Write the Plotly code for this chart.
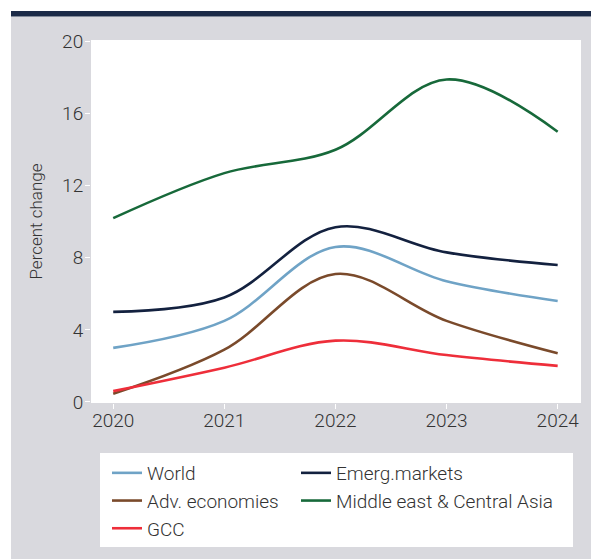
import plotly.graph_objects as go

years = [2020, 2021, 2022, 2023, 2024]
world = [3.0, 4.5, 8.6, 6.7, 5.6]
emerg = [5.0, 5.8, 9.7, 8.3, 7.6]
adv = [0.45, 2.9, 7.1, 4.5, 2.7]
mena_ca = [10.2, 12.7, 14.0, 17.9, 15.0]
gcc = [0.6, 1.9, 3.4, 2.6, 2.0]

y_ticks = [0, 4, 8, 12, 16, 20]

W, H = 591, 559
L, R, T, B = 91, 10, 40, 156
pw, ph = W - L - R, H - T - B


def px(x):
    return (x - L) / pw


def py(y):
    return (H - B - y) / ph


series = [
    ("World", world, "#6fa3c6", "legend"),
    ("Emerg.markets", emerg, "#13213f", "legend2"),
    ("Adv. economies", adv, "#7a4a2b", "legend"),
    ("Middle east & Central Asia", mena_ca, "#17693a", "legend2"),
    ("GCC", gcc, "#ee2e3a", "legend"),
]

fig = go.Figure()
for name, vals, col, lg in series:
    fig.add_trace(go.Scatter(x=years, y=vals, name=name, mode="lines", legend=lg,
                             line=dict(color=col, width=2.6, shape="spline", smoothing=1.0)))

shapes = [
    dict(type="rect", xref="paper", yref="paper", x0=px(11), x1=px(591), y0=py(559), y1=py(16.5),
         fillcolor="#d9d9de", line=dict(width=0), layer="below"),
    dict(type="rect", xref="paper", yref="paper", x0=px(11), x1=px(591), y0=py(16.5), y1=py(11),
         fillcolor="#1b2a47", line=dict(width=0), layer="below"),
    dict(type="rect", xref="paper", yref="paper", x0=0, x1=1, y0=0, y1=1,
         fillcolor="white", line=dict(width=0), layer="below"),
    dict(type="rect", xref="paper", yref="paper", x0=px(100), x1=px(573), y0=py(547), y1=py(453),
         fillcolor="white", line=dict(width=0), layer="below"),
]

legend_font = dict(size=19, color="#333333", weight=300)

fig.update_layout(
    width=W, height=H,
    margin=dict(l=L, r=R, t=T, b=B),
    paper_bgcolor="white",
    plot_bgcolor="white",
    font=dict(family="Roboto, Liberation Sans, sans-serif", color="#333333", weight=300),
    shapes=shapes,
    showlegend=True,
    legend=dict(orientation="v", x=px(107), y=py(454), xanchor="left", yanchor="top",
                bgcolor="rgba(0,0,0,0)", font=legend_font, itemwidth=30, tracegroupgap=0),
    legend2=dict(orientation="v", x=px(296), y=py(454), xanchor="left", yanchor="top",
                 bgcolor="rgba(0,0,0,0)", font=legend_font, itemwidth=30, tracegroupgap=0),
    xaxis=dict(range=[2019.80, 2024.21], tickvals=years, ticktext=[str(y) for y in years],
               showgrid=False, zeroline=False, ticks="outside", ticklen=5, tickcolor="white",
               tickfont=dict(size=19, color="#333333", weight=300), showline=False,
               ticklabelstandoff=-5),
    yaxis=dict(range=[-0.06, 20.09], tickvals=y_ticks, showgrid=False, zeroline=False,
               ticks="outside", ticklen=5, tickcolor="white",
               tickfont=dict(size=19, color="#333333", weight=300), ticklabelstandoff=-2,
               title=dict(text="Percent change", font=dict(size=17, color="#333333", weight=300),
                          standoff=15)),
)

fig.write_html("out.html", config={"displayModeBar": False},
               post_script="document.body.style.margin='0';")
